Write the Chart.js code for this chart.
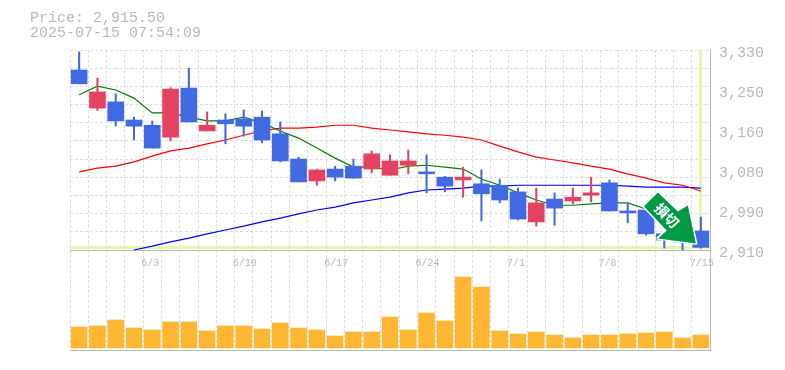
<!DOCTYPE html>
<html>
<head>
<meta charset="utf-8">
<script src="https://cdn.jsdelivr.net/npm/chart.js@4"></script>
<style>
  html, body { margin: 0; padding: 0; background: #fff; }
  #wrap { width: 785px; height: 370px; }
</style>
</head>
<body>
<div id="wrap"><canvas id="chart" width="785" height="370"></canvas></div>
<script>
const dates = ["5/28","5/29","5/30","6/2","6/3","6/4","6/5","6/6","6/9","6/10","6/11","6/12","6/13","6/16","6/17","6/18","6/19","6/20","6/23","6/24","6/25","6/26","6/27","6/30","7/1","7/2","7/3","7/4","7/7","7/8","7/9","7/10","7/11","7/14","7/15"];
const shownDates = ["6/3","6/10","6/17","6/24","7/1","7/8","7/15"];

const opens  = [3288,3208,3221,3183,3172,3147,3250,3160,3183,3185,3189,3154,3101,3055,3080,3086,3080,3067,3088,3074,3063,3057,3049,3046,3032,2969,3017,3013,3025,3051,2992,2994,2944,2933,2950];
const highs  = [3326,3271,3238,3189,3181,3251,3292,3200,3196,3204,3202,3179,3105,3080,3086,3101,3118,3110,3120,3110,3065,3084,3078,3059,3040,3040,3030,3040,3063,3057,3009,2994,2944,2933,2979];
const lows   = [3259,3203,3170,3141,3124,3139,3179,3160,3133,3149,3135,3095,3053,3046,3055,3061,3072,3067,3070,3030,3032,3021,2971,3009,2973,2960,2962,3007,3011,2992,2967,2941,2914,2910,2914];
const closes = [3259,3242,3181,3170,3124,3248,3179,3172,3175,3170,3141,3097,3053,3078,3063,3061,3112,3097,3097,3070,3044,3063,3028,3015,2975,3009,2998,3021,3030,2992,2988,2944,2931,2927,2915.5];

const maShort = [3236,3254,3246,3229,3198,3198,3189,3181,3181,3189,3177,3160,3145,3124,3103,3084,3084,3078,3086,3088,3084,3080,3059,3046,3030,3015,3004,3004,3007,3009,3009,2996,2977,2958,2939];
const maMid   = [3074,3082,3086,3095,3107,3118,3124,3133,3141,3151,3160,3166,3166,3168,3172,3172,3166,3162,3158,3154,3151,3147,3141,3128,3116,3105,3099,3093,3086,3080,3070,3061,3051,3046,3034];
const maLong  = [null,null,null,2910,2918,2927,2935,2944,2952,2960,2969,2977,2986,2994,3000,3009,3015,3021,3030,3036,3038,3040,3044,3044,3046,3046,3046,3046,3046,3046,3044,3042,3042,3042,3040];

const volumes = [21,22,28,20,18,26,26,17,22,22,19,25,20,18,12,16,16,31,18,35,27,71,61,17,14,16,13,10,13,13,14,15,16,10,13];

const priceTickValues = [2910,2994,3078,3162,3246,3330];
const priceTickLabels = ["2,910","2,990","3,080","3,160","3,250","3,330"];
const gridValues = [2910,2948,2986,3025,3063,3101,3139,3177,3215,3254,3292,3330];

const headerLines = ["Price: 2,915.50","2025-07-15 07:54:09"];
const signalText = "損切";
const lastPrice = 2915.5;

const BLUE = "#4169e1", RED = "#e34360", GRAY = "#b8b8b8", GRID = "#dddddd", BAND = "#e4f6a9";
const MONO = '"Liberation Mono", monospace';

const candleColors = closes.map((c, i) => c >= opens[i] ? RED : BLUE);

// last price cross, under the candles
const priceBand = {
  id: "priceBand",
  beforeDatasetsDraw(chart) {
    const { ctx, chartArea, scales } = chart;
    const py = scales.y.getPixelForValue(lastPrice);
    const px = scales.x.getPixelForValue(dates.length - 1);
    ctx.save();
    ctx.fillStyle = BAND;
    ctx.fillRect(chartArea.left, Math.round(py) - 1, chartArea.width, 3);
    ctx.fillRect(Math.round(px) - 2, chartArea.top, 3, scales.y.getPixelForValue(2910) - chartArea.top);
    ctx.restore();
  }
};

// header text and the green signal arrow
const overlay = {
  id: "overlay",
  afterDraw(chart) {
    const { ctx, scales } = chart;
    ctx.save();
    ctx.fillStyle = GRAY;
    ctx.font = "15px " + MONO;
    ctx.textBaseline = "middle";
    ctx.fillText(headerLines[0], 30, 18);
    ctx.fillText(headerLines[1], 30, 33);

    // tip of the arrow sits just left of the last candle
    const tipX = scales.x.getPixelForValue(dates.length - 1) - 5;
    const tipY = scales.y.getPixelForValue(lastPrice) - 4;
    const shape = [[0,0],[-38,-5],[-29,-13],[-52,-37],[-38,-51],[-18,-32],[-8,-38]];
    ctx.beginPath();
    shape.forEach(([dx, dy], i) => {
      if (i === 0) ctx.moveTo(tipX + dx, tipY + dy);
      else ctx.lineTo(tipX + dx, tipY + dy);
    });
    ctx.closePath();
    ctx.strokeStyle = "#ffffff";
    ctx.lineWidth = 3;
    ctx.lineJoin = "round";
    ctx.stroke();
    ctx.fillStyle = "#009944";
    ctx.fill();

    ctx.translate(tipX - 29, tipY - 28);
    ctx.rotate(Math.PI / 4);
    ctx.fillStyle = "#ffffff";
    ctx.font = 'bold 14px "Noto Sans CJK JP"';
    ctx.textAlign = "center";
    ctx.textBaseline = "middle";
    ctx.fillText(signalText, 0, 0);
    ctx.restore();
  }
};

new Chart(document.getElementById("chart"), {
  data: {
    labels: dates,
    datasets: [
      { type: "line", label: "MA short", data: maShort, yAxisID: "y", borderColor: "#008000", borderWidth: 1.2, pointRadius: 0, order: 5 },
      { type: "line", label: "MA mid", data: maMid, yAxisID: "y", borderColor: "#ff0000", borderWidth: 1.2, pointRadius: 0, order: 5 },
      { type: "line", label: "MA long", data: maLong, yAxisID: "y", borderColor: "#0000ff", borderWidth: 1.2, pointRadius: 0, order: 5 },
      { type: "bar", label: "wick", data: lows.map((l, i) => [l, highs[i]]), yAxisID: "y", backgroundColor: candleColors, barThickness: 1.4, grouped: false, order: 2 },
      { type: "bar", label: "body", data: opens.map((o, i) => [o, closes[i]]), yAxisID: "y", backgroundColor: candleColors, barThickness: 16, grouped: false, order: 1 },
      { type: "bar", label: "volume", data: volumes, yAxisID: "vol", backgroundColor: "#ffb733", barThickness: 16, grouped: false, order: 3 }
    ]
  },
  options: {
    responsive: false,
    animation: false,
    layout: { padding: { left: 70, top: 50, right: 0, bottom: 20 } },
    plugins: { legend: { display: false }, tooltip: { enabled: false } },
    scales: {
      x: {
        type: "category",
        offset: true,
        position: { y: 2910 },
        grid: { color: GRID, offset: true, drawTicks: false },
        border: { color: GRAY, dash: [3, 2] },
        ticks: {
          autoSkip: false,
          maxRotation: 0,
          align: "start",
          labelOffset: -11,
          padding: 7,
          color: GRAY,
          font: { family: MONO, size: 10 },
          callback(value) {
            const label = this.getLabelForValue(value);
            return shownDates.includes(label) ? label : "";
          }
        }
      },
      xBase: {
        type: "category",
        position: "bottom",
        labels: dates,
        grid: { display: false },
        ticks: { display: false },
        border: { color: GRAY },
        afterFit(axis) { axis.height = 0; }
      },
      y: {
        position: "right",
        min: 2700,
        max: 3330,
        grid: { display: false, drawTicks: false },
        border: { color: GRAY },
        afterBuildTicks(axis) { axis.ticks = priceTickValues.map(value => ({ value })); },
        afterFit(axis) { axis.width = 75; },
        ticks: {
          padding: 9,
          labelOffset: 3,
          color: GRAY,
          font: { family: MONO, size: 15 },
          callback(value) { return priceTickLabels[priceTickValues.indexOf(value)]; }
        }
      },
      yGrid: {
        position: "right",
        min: 2700,
        max: 3330,
        grid: { color: GRID, drawTicks: false },
        border: { display: false, dash: [3, 2] },
        ticks: { display: false },
        afterBuildTicks(axis) { axis.ticks = gridValues.map(value => ({ value })); },
        afterFit(axis) { axis.width = 0; }
      },
      vol: {
        display: false,
        min: -2,
        max: 298
      }
    }
  },
  plugins: [priceBand, overlay]
});
</script>
</body>
</html>
